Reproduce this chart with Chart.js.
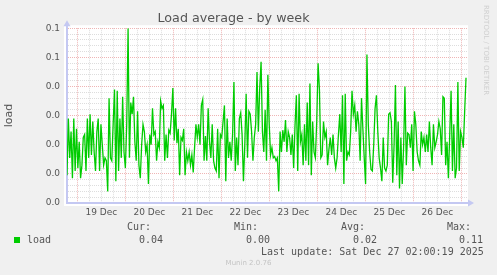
<!DOCTYPE html>
<html>
<head>
<meta charset="utf-8">
<script src="https://cdn.jsdelivr.net/npm/chart.js@4/dist/chart.umd.min.js"></script>
<style>
  body { margin: 0; background: #f0f0f0; }
  #wrap { position: relative; width: 497px; height: 275px; }
  .t { position: absolute; font: 10px "DejaVu Sans Mono", monospace; line-height: 12px; color: #555; white-space: pre; }
</style>
</head>
<body>
<div id="wrap">
  <canvas id="load-chart" width="497" height="275"></canvas>
  <div class="t" style="left:127px;top:221px">Cur:</div>
  <div class="t" style="left:234px;top:221px">Min:</div>
  <div class="t" style="left:341px;top:221px">Avg:</div>
  <div class="t" style="left:447px;top:221px">Max:</div>
  <div style="position:absolute;left:14px;top:237px;width:6px;height:6px;background:#00cc00"></div>
  <div class="t" style="left:27px;top:234px">load</div>
  <div class="t" style="left:139px;top:234px">0.04</div>
  <div class="t" style="left:246px;top:234px">0.00</div>
  <div class="t" style="left:353px;top:234px">0.02</div>
  <div class="t" style="left:459px;top:234px">0.11</div>
  <div class="t" style="left:261px;top:246px">Last update: Sat Dec 27 02:00:19 2025</div>
  <div style="position:absolute;left:0;width:497px;top:259px;text-align:center;font:7px 'DejaVu Sans',sans-serif;color:#c4c4c4">Munin 2.0.76</div>
  <div style="position:absolute;left:482px;top:5px;writing-mode:vertical-rl;font:7px 'DejaVu Sans',sans-serif;color:#cfcfcf">RRDTOOL / TOBI OETIKER</div>
</div>
<script>
// hours counted from 18 Dec 00:00, one sample roughly every 40 min
let sampleStartHour = 18.85;
let sampleStepHours = 0.6786;

let loadValues = [
  0.019, 0.058, 0.031, 0.049, 0.017, 0.058, 0.022, 0.051, 0.024, 0.042,
  0.017, 0.026, 0.045, 0.047, 0.022, 0.058, 0.031, 0.061, 0.033, 0.056,
  0.035, 0.022, 0.049, 0.058, 0.022, 0.054, 0.040, 0.026, 0.031, 0.029,
  0.008, 0.072, 0.031, 0.029, 0.054, 0.078, 0.015, 0.077, 0.022, 0.058,
  0.031, 0.073, 0.035, 0.024, 0.054, 0.120, 0.031, 0.069, 0.061, 0.073,
  0.042, 0.029, 0.063, 0.026, 0.017, 0.040, 0.054, 0.049, 0.035, 0.040,
  0.013, 0.047, 0.040, 0.065, 0.047, 0.049, 0.029, 0.042, 0.038, 0.070,
  0.065,
  0.067, 0.029, 0.047, 0.031, 0.050, 0.048, 0.061, 0.079, 0.043, 0.065,
  0.041, 0.051, 0.019, 0.045, 0.043, 0.051, 0.019, 0.035, 0.029, 0.035,
  0.026, 0.033, 0.021, 0.038, 0.054, 0.045, 0.054, 0.040, 0.067, 0.071,
  0.029, 0.046, 0.029, 0.065, 0.042, 0.031, 0.054, 0.029, 0.024, 0.022,
  0.051, 0.017, 0.047, 0.045, 0.056, 0.067, 0.015, 0.058, 0.031, 0.042,
  0.029, 0.047, 0.083, 0.022, 0.045, 0.026, 0.058, 0.062, 0.047, 0.015,
  0.040, 0.075, 0.031, 0.063, 0.061, 0.049, 0.029, 0.045, 0.054, 0.090,
  0.049, 0.079, 0.097, 0.049, 0.035,
  0.064, 0.029, 0.088, 0.054, 0.033, 0.038, 0.031, 0.032, 0.029, 0.031,
  0.008, 0.049, 0.035, 0.050, 0.042, 0.057, 0.035, 0.049, 0.045, 0.033,
  0.047, 0.024, 0.053, 0.074, 0.022, 0.075, 0.042, 0.047, 0.026, 0.054,
  0.029, 0.069, 0.026, 0.082, 0.019, 0.056, 0.035, 0.031, 0.056, 0.096,
  0.078, 0.031, 0.033, 0.056, 0.045, 0.049, 0.026, 0.037, 0.045, 0.033,
  0.047, 0.031, 0.024, 0.031, 0.047, 0.061, 0.035, 0.074, 0.013, 0.075,
  0.029, 0.035, 0.033, 0.049, 0.077, 0.061, 0.067, 0.049, 0.063, 0.054,
  0.029, 0.072, 0.051, 0.031, 0.013,
  0.102, 0.054, 0.035, 0.023, 0.022, 0.040, 0.065, 0.074, 0.049, 0.031,
  0.024, 0.015, 0.045, 0.024, 0.022, 0.026, 0.061, 0.062, 0.056, 0.014,
  0.040, 0.081, 0.019, 0.056, 0.010, 0.045, 0.013, 0.038, 0.080, 0.026,
  0.048, 0.047, 0.038, 0.054, 0.022, 0.063, 0.054, 0.035, 0.029, 0.026,
  0.049, 0.040, 0.045, 0.035, 0.047, 0.035, 0.056, 0.038, 0.026, 0.054,
  0.038, 0.042, 0.047, 0.056, 0.051, 0.033, 0.073, 0.072, 0.026, 0.042,
  0.017, 0.047, 0.077, 0.022, 0.054, 0.017, 0.024, 0.083, 0.022, 0.049,
  0.045, 0.038, 0.063, 0.086
];

let dayLabels = ["19 Dec", "20 Dec", "21 Dec", "22 Dec", "23 Dec", "24 Dec", "25 Dec", "26 Dec"];
let xTickHours = [];
for (let h = 24; h <= 216; h += 6) xTickHours.push(h);

let yTickLabels = ["0.0", "0.0", "0.0", "0.0", "0.0", "0.1", "0.1"];
let yMax = 0.12;
let yMinorStep = 0.004;

let majorGrid = "rgba(220,90,90,0.45)";
let minorGrid = "rgba(150,150,150,0.32)";
let axisColor = "#c4c8f2";

Chart.defaults.font.family = "'DejaVu Sans', sans-serif";
Chart.defaults.color = "#555";

const plotBg = {
  id: "plotBg",
  beforeDraw(chart) {
    const a = chart.chartArea, ctx = chart.ctx;
    ctx.save();
    ctx.fillStyle = "#fff";
    ctx.fillRect(a.left - 3, a.top - 3, a.right - a.left + 4, a.bottom - a.top + 6);
    ctx.restore();
  }
};

const axisArrows = {
  id: "axisArrows",
  afterDraw(chart) {
    const a = chart.chartArea, ctx = chart.ctx;
    ctx.save();
    ctx.strokeStyle = axisColor;
    ctx.fillStyle = axisColor;
    ctx.lineWidth = 2;
    ctx.beginPath();
    ctx.moveTo(a.left, a.top);
    ctx.lineTo(a.left, a.top - 3);
    ctx.moveTo(a.right, a.bottom);
    ctx.lineTo(a.right + 2, a.bottom);
    ctx.stroke();
    ctx.beginPath();
    ctx.moveTo(a.left, a.top - 8);
    ctx.lineTo(a.left - 3.5, a.top - 2);
    ctx.lineTo(a.left + 3.5, a.top - 2);
    ctx.closePath();
    ctx.fill();
    ctx.beginPath();
    ctx.moveTo(a.right + 7, a.bottom);
    ctx.lineTo(a.right + 1, a.bottom - 3.5);
    ctx.lineTo(a.right + 1, a.bottom + 3.5);
    ctx.closePath();
    ctx.fill();
    ctx.restore();
  }
};

new Chart(document.getElementById("load-chart"), {
  type: "line",
  data: {
    datasets: [
      {
        label: "load",
        data: loadValues.map((v, i) => ({ x: sampleStartHour + i * sampleStepHours, y: v })),
        borderColor: "#00cc00",
        borderWidth: 1.3,
        pointRadius: 0,
        tension: 0,
        fill: false,
      },
    ],
  },
  options: {
    responsive: false,
    animation: false,
    devicePixelRatio: 1,
    layout: { padding: { left: 0, right: 30, top: 0, bottom: 0 } },
    plugins: {
      legend: { display: false },
      tooltip: { enabled: false },
      title: {
        display: true,
        text: "Load average - by week",
        color: "#555",
        font: { size: 12.7, weight: "normal", lineHeight: 1.2 },
        padding: { top: 11, bottom: 2 },
      },
    },
    scales: {
      x: {
        type: "linear",
        min: 18.85,
        max: 218.85,
        afterBuildTicks: (scale) => {
          scale.ticks = xTickHours.map((v) => ({ value: v }));
        },
        afterFit: (scale) => { scale.height = 72; },
        ticks: {
          autoSkip: false,
          maxRotation: 0,
          padding: 4,
          color: "#555",
          font: { size: 9 },
          callback: (value) => (value % 24 === 12 ? dayLabels[(value - 36) / 24] : ""),
        },
        grid: {
          drawTicks: false,
          lineWidth: 1,
          color: (ctx) => (ctx.tick && ctx.tick.value % 24 === 0 ? majorGrid : minorGrid),
        },
        border: { color: axisColor, width: 2, dash: [1, 1] },
      },
      y: {
        type: "linear",
        min: 0,
        max: yMax,
        afterBuildTicks: (scale) => {
          const t = [];
          for (let i = 0; i <= Math.round(yMax / yMinorStep); i++) t.push({ value: +(i * yMinorStep).toFixed(4) });
          scale.ticks = t;
        },
        afterFit: (scale) => { scale.width = 67; },
        title: {
          display: true,
          text: "load",
          color: "#555",
          font: { size: 11 },
          padding: { top: 3, bottom: 0 },
        },
        ticks: {
          autoSkip: false,
          padding: 7,
          color: "#555",
          font: { size: 9 },
          callback: (value, index) => (index % 5 === 0 ? yTickLabels[index / 5] : ""),
        },
        grid: {
          drawTicks: false,
          lineWidth: 1,
          color: (ctx) => (ctx.index % 5 === 0 ? majorGrid : minorGrid),
        },
        border: { color: axisColor, width: 2, dash: [1, 1] },
      },
    },
  },
  plugins: [plotBg, axisArrows],
});
</script>
</body>
</html>
